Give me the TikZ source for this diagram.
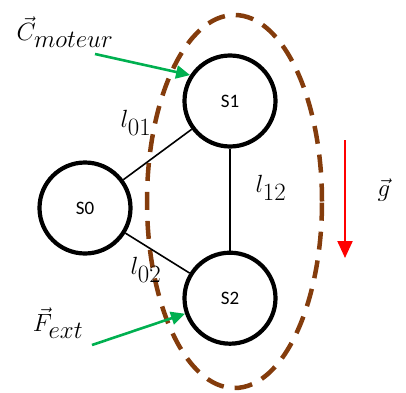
\documentclass[tikz,border=0pt]{standalone}
\usepackage{amsmath,amssymb}
\usepackage{fontspec}
\usepackage{xcolor}
\usetikzlibrary{positioning,arrows.meta}
\newfontfamily\bodyfont{Carlito}
\DeclareMathSizes{28}{28}{23}{17}
\definecolor{ink}{HTML}{000000}
\definecolor{loop}{HTML}{843C0C}
\definecolor{push}{HTML}{00B050}
\definecolor{grav}{HTML}{FF0000}
\tikzset{
  body/.style={circle, draw=ink, line width=4.2pt, minimum size=91pt, inner sep=0pt,
               font=\bodyfont\fontsize{19}{21}\selectfont},
  link/.style={draw=ink, line width=1.6pt},
  sys/.style={draw=loop, line width=4.5pt, dash pattern=on 18pt off 11pt},
  force/.style={-{Triangle[length=14pt,width=13pt]}, line width=2.6pt, color=push},
  down/.style={-{Triangle[length=17pt,width=15pt]}, line width=2.2pt, color=grav},
  lbl/.style={font=\fontsize{28}{32}\selectfont},
}
\begin{document}
\begin{tikzpicture}[x=1pt, y=1pt]
\useasboundingbox (0,0) rectangle (406,392);

% --- isolated system ---
\draw[sys] (234.5,190.5) ellipse [x radius=87.5, y radius=186.5];

% --- bodies ---
\node[body] (S1) at (230,291) {S1};
\node[body] (S0) at (85,184) {S0};
\node[body] (S2) [below=102pt of S1] {S2};

\draw[link] (S0) -- (S1);
\draw[link] (S0) -- (S2);
\draw[link] (S1) -- (S2);

\node[lbl] (l01) at (136,269) {$l_{01}$};
\node[lbl] (l02) at (146,122) {$l_{02}$};
\node[lbl] (l12) at (271,204) {$l_{12}$};

% --- external actions ---
\node[lbl] (cm) at (65,360) {$\vec{C}_{moteur}$};
\coordinate (cstart) at (95,338);
\draw[force] (cstart) -- (S1.147);

\node[lbl] (fx) at (58,69) {$\vec{F}_{ext}$};
\coordinate (fstart) at (92,47);
\draw[force] (fstart) -- (S2.199);

% --- gravity ---
\coordinate (gtop) at (345,252);
\coordinate (gbot) at (345,134);
\draw[down] (gtop) -- (gbot);
\node[lbl] (g) at (384,202) {$\vec{g}$};

\end{tikzpicture}
\end{document}
